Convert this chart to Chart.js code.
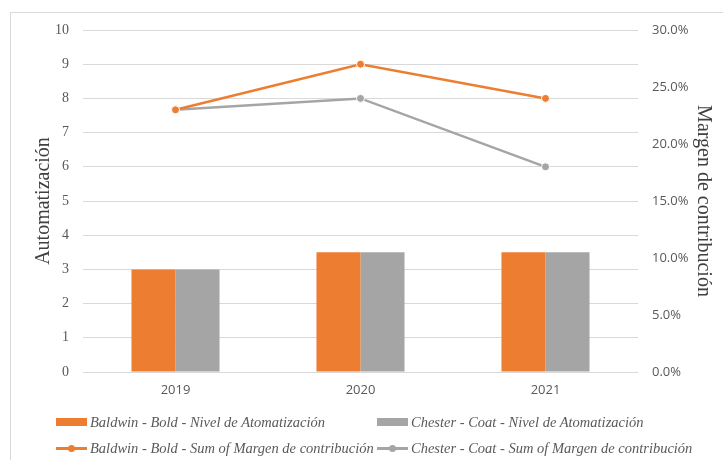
<!DOCTYPE html>
<html>
<head>
<meta charset="utf-8">
<script src="https://cdn.jsdelivr.net/npm/chart.js@4.4.1/dist/chart.umd.min.js"></script>
<style>
  html, body { margin: 0; padding: 0; background: #fff; }
  #wrap { position: relative; width: 723px; height: 460px; overflow: hidden; }
  #frame { position: absolute; left: 10px; top: 12px; width: 730px; height: 470px; border: 1px solid #d9d9d9; pointer-events: none; }
  .leg { position: absolute; display: flex; align-items: center; height: 20px;
         font: italic 14.5px 'Liberation Serif', serif; color: #595959; white-space: nowrap; }
  .mk { position: relative; width: 31px; height: 8px; margin-right: 3px; flex: none; }
  .mk .ln { position: absolute; left: 0; right: 0; top: 3px; height: 2.5px; }
  .mk .dot { position: absolute; left: 12px; top: 0.5px; width: 7px; height: 7px; border-radius: 50%; }
</style>
</head>
<body>
<div id="wrap">
  <canvas id="chart" width="723" height="460"></canvas>
  <div id="frame"></div>
  <div id="legend"></div>
</div>
<script>
// --- data ---
const years = ['2019', '2020', '2021'];
const baldwinNivel = [3, 3.5, 3.5];
const chesterNivel = [3, 3.5, 3.5];
const baldwinMargen = [0.23, 0.27, 0.24];
const chesterMargen = [0.23, 0.24, 0.18];

const ORANGE = '#ED7D31';
const GRAY = '#A5A5A5';

const chart = new Chart(document.getElementById('chart'), {
    data: {
        labels: years,
        datasets: [
            {
                type: 'bar', label: 'Baldwin - Bold - Nivel de Atomatización',
                data: baldwinNivel, backgroundColor: ORANGE, yAxisID: 'y',
                categoryPercentage: 0.476, barPercentage: 1, order: 2
            },
            {
                type: 'bar', label: 'Chester - Coat - Nivel de Atomatización',
                data: chesterNivel, backgroundColor: GRAY, yAxisID: 'y',
                categoryPercentage: 0.476, barPercentage: 1, order: 2
            },
            {
                type: 'line', label: 'Baldwin - Bold - Sum of Margen de contribución',
                data: baldwinMargen, borderColor: ORANGE, backgroundColor: ORANGE,
                borderWidth: 2.5, pointRadius: 4, pointBorderColor: '#fff', pointBorderWidth: 1,
                yAxisID: 'y1', order: 1
            },
            {
                type: 'line', label: 'Chester - Coat - Sum of Margen de contribución',
                data: chesterMargen, borderColor: GRAY, backgroundColor: GRAY,
                borderWidth: 2.5, pointRadius: 4, pointBorderColor: '#fff', pointBorderWidth: 1,
                yAxisID: 'y1', order: 1
            }
        ]
    },
    options: {
        responsive: false,
        animation: false,
        layout: { padding: { left: 32, right: 8, top: 30, bottom: 58 } },
        plugins: {
            tooltip: { enabled: false },
            legend: { display: false }
        },
        scales: {
            x: {
                grid: { display: false },
                border: { display: false },
                ticks: { color: '#595959', font: { family: "'Open Sans', sans-serif", size: 13 }, padding: 2 },
                afterFit(scale) { scale.height = 30; }
            },
            y: {
                position: 'left',
                min: 0, max: 10,
                ticks: { stepSize: 1, color: '#595959', padding: 14, font: { family: "'Liberation Serif', serif", size: 14 } },
                grid: { color: '#d9d9d9', drawTicks: false },
                border: { display: false },
                title: { display: true, text: 'Automatización', color: '#404040', font: { family: "'Liberation Serif', serif", size: 20 }, padding: 0 },
                afterFit(scale) { scale.width = 51; }
            },
            y1: {
                position: 'right',
                min: 0, max: 0.3,
                ticks: {
                    stepSize: 0.05, color: '#595959', padding: 6,
                    font: { family: "'Open Sans', sans-serif", size: 13 },
                    callback: v => (v * 100).toFixed(1) + '%'
                },
                grid: { display: false },
                border: { display: false },
                title: { display: true, text: 'Margen de contribución', color: '#404040', font: { family: "'Liberation Serif', serif", size: 20 }, padding: 0 },
                afterFit(scale) { scale.width = 77; }
            }
        }
    }
});

// --- legend in two columns, like the original ---
const legendPos = [[56, 412], [377, 412], [56, 438], [377, 438]];
const legendEl = document.getElementById('legend');
chart.data.datasets.forEach((ds, i) => {
    const item = document.createElement('div');
    item.className = 'leg';
    item.style.left = legendPos[i][0] + 'px';
    item.style.top = legendPos[i][1] + 'px';
    const mk = document.createElement('span');
    mk.className = 'mk';
    if (ds.type === 'bar') {
        mk.style.background = ds.backgroundColor;
    } else {
        mk.innerHTML = '<span class="ln" style="background:' + ds.borderColor + '"></span>' +
                       '<span class="dot" style="background:' + ds.borderColor + '"></span>';
    }
    item.appendChild(mk);
    item.appendChild(document.createTextNode(ds.label));
    legendEl.appendChild(item);
});
</script>
</body>
</html>
